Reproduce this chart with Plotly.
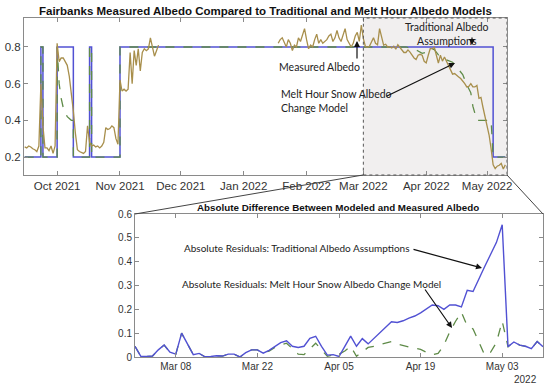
import plotly.graph_objects as go
import pandas as pd

W, H = 550, 389

# ---------------- data ----------------
# Measured albedo, daily, fall segment (starting 2021-09-15)
meas_fall_start = "2021-09-15"
meas_fall = [0.255, 0.25, 0.26, 0.255, 0.245, 0.24, 0.23, 0.26, 0.6, 0.37,
             0.25, 0.25, 0.235, 0.26, 0.22, 0.26,
             0.82, 0.72, 0.74, 0.74, 0.72, 0.70, 0.64, 0.55, 0.45, 0.33,
             0.24, 0.23, 0.225, 0.22, 0.23, 0.37, 0.28, 0.26, 0.265, 0.255,
             0.26, 0.25, 0.26, 0.28, 0.36, 0.35, 0.355, 0.37, 0.36, 0.30, 0.27,
             0.62, 0.56, 0.57, 0.56, 0.57, 0.77, 0.60, 0.78, 0.70, 0.79,
             0.67, 0.77, 0.79, 0.78, 0.79, 0.85, 0.80, 0.75, 0.78, 0.81]
# Measured albedo, daily, winter/spring segment (starting 2022-01-18)
meas_spring_start = "2022-01-18"
meas_spring = [0.82, 0.84, 0.85, 0.82, 0.80, 0.84, 0.82, 0.78, 0.81, 0.80,
               0.85, 0.83, 0.86, 0.90,
               0.84, 0.79, 0.81, 0.80, 0.84, 0.87, 0.82, 0.84, 0.82, 0.83,
               0.84, 0.86, 0.87, 0.83, 0.85, 0.89, 0.85, 0.83, 0.86, 0.90,
               0.84, 0.82, 0.80, 0.82, 0.86, 0.88, 0.83, 0.92,
               0.845, 0.803, 0.798, 0.804, 0.83, 0.85, 0.82, 0.812, 0.9, 0.855,
               0.81, 0.815, 0.799, 0.802, 0.795, 0.804, 0.788, 0.812, 0.8, 0.782,
               0.77, 0.77, 0.784, 0.772, 0.755, 0.74, 0.732, 0.755, 0.76, 0.755, 0.722,
               0.713, 0.755, 0.792, 0.79, 0.798, 0.755, 0.712, 0.755, 0.723, 0.745,
               0.722, 0.70, 0.675, 0.652, 0.655, 0.648, 0.637, 0.628, 0.615, 0.60,
               0.582, 0.585, 0.60, 0.582, 0.582, 0.59, 0.52, 0.525, 0.47, 0.42,
               0.37, 0.32, 0.245, 0.157, 0.137, 0.15, 0.155, 0.165, 0.135, 0.157]

# Traditional albedo assumption (step values)
trad_dates = ["2021-09-15", "2021-09-23", "2021-09-24", "2021-10-01", "2021-10-09",
              "2021-10-17", "2021-10-18", "2021-11-01", "2022-05-04", "2022-05-10"]
trad_vals = [0.2, 0.8, 0.2, 0.8, 0.2, 0.8, 0.2, 0.8, 0.2, 0.2]

# Melt hour snow albedo change model (breakpoints)
melt_dates = ["2021-09-15", "2021-09-23", "2021-09-23", "2021-09-24", "2021-09-24",
              "2021-10-01", "2021-10-01", "2021-10-02", "2021-10-03", "2021-10-04",
              "2021-10-05", "2021-10-06", "2021-10-07", "2021-10-08", "2021-10-09",
              "2021-10-09", "2021-10-17", "2021-10-17", "2021-10-18", "2021-10-18",
              "2021-11-01", "2021-11-01", "2022-03-22", "2022-03-24", "2022-03-26",
              "2022-03-28", "2022-03-30", "2022-04-01", "2022-04-03", "2022-04-05",
              "2022-04-07", "2022-04-09", "2022-04-11", "2022-04-14", "2022-04-17",
              "2022-04-19", "2022-04-21", "2022-04-23", "2022-04-24", "2022-04-25",
              "2022-04-26", "2022-05-03", "2022-05-04", "2022-05-10"]
melt_vals = [0.2, 0.2, 0.8, 0.8, 0.2,
             0.2, 0.8, 0.6, 0.52, 0.47,
             0.44, 0.42, 0.41, 0.40, 0.40,
             0.2, 0.2, 0.8, 0.8, 0.2,
             0.2, 0.8, 0.8, 0.797, 0.79,
             0.778, 0.765, 0.771, 0.79, 0.786,
             0.757, 0.745, 0.73, 0.717, 0.68,
             0.65, 0.595, 0.55, 0.477, 0.44,
             0.40, 0.40, 0.2, 0.2]

# Absolute residuals, daily from 2022-03-01
resid_start = "2022-03-01"
resid_trad = [0.045, 0.003, 0.002, 0.004, 0.03, 0.05, 0.02, 0.012, 0.1, 0.055,
              0.01, 0.015, 0.001, 0.002, 0.005, 0.004, 0.012, 0.012, 0.0, 0.018,
              0.03, 0.03, 0.016, 0.028, 0.045, 0.06, 0.068, 0.045, 0.04, 0.045, 0.078,
              0.087, 0.045, 0.008, 0.01, 0.002, 0.045, 0.088, 0.045, 0.077, 0.055,
              0.078, 0.1, 0.125, 0.148, 0.145, 0.152, 0.163, 0.172, 0.185, 0.2,
              0.218, 0.215, 0.2, 0.218, 0.218, 0.21, 0.28, 0.275, 0.33, 0.38,
              0.43, 0.48, 0.555, 0.043, 0.063, 0.05, 0.045, 0.035, 0.065, 0.043]
resid_melt = [0.045, 0.003, 0.002, 0.004, 0.03, 0.05, 0.02, 0.012, 0.1, 0.055,
              0.01, 0.015, 0.001, 0.002, 0.005, 0.004, 0.012, 0.012, 0.0, 0.018,
              0.03, 0.03, 0.016, 0.025, 0.04, 0.05, 0.058, 0.035, 0.012, 0.01, 0.035,
              0.058, 0.03, 0.003, 0.008, 0.012, 0.025, 0.045, 0.003, 0.02, 0.04,
              0.045, 0.052, 0.06, 0.065, 0.055, 0.048, 0.042, 0.038, 0.032, 0.02,
              0.01, 0.015, 0.05, 0.105, 0.15, 0.188, 0.13, 0.118, 0.06, 0.008,
              0.02, 0.06, 0.15, 0.043, 0.063, 0.05, 0.045, 0.035, 0.065, 0.043]

top_ticks = ["2021-10-01", "2021-11-01", "2021-12-01", "2022-01-01",
             "2022-02-01", "2022-03-01", "2022-04-01", "2022-05-01"]
bottom_ticks = ["2022-03-08", "2022-03-22", "2022-04-05", "2022-04-19", "2022-05-03"]

# ---------------- colours / fonts ----------------
BLUE = "#5151d3"
GREEN = "#5f8b48"
MEAS = "#a88f4c"
AX = "#8a8a8a"
TICKFONT = dict(family="Liberation Sans, Arial, sans-serif", size=11.5, color="#333")
ANNFONT = "Lato, Carlito, sans-serif"


def px(x, y):
    return x / W, 1 - y / H


meas_fall_dates = list(pd.date_range(meas_fall_start, periods=len(meas_fall), freq="D"))
meas_spring_dates = list(pd.date_range(meas_spring_start, periods=len(meas_spring), freq="D"))
meas_x = meas_fall_dates + [None] + meas_spring_dates
meas_y = meas_fall + [None] + meas_spring
resid_dates = pd.date_range(resid_start, periods=len(resid_trad), freq="D")

fig = go.Figure()
fig.add_trace(go.Scatter(x=pd.to_datetime(trad_dates), y=trad_vals, mode="lines",
                         line=dict(color=BLUE, width=1.5, shape="hv"),
                         xaxis="x", yaxis="y", showlegend=False))
fig.add_trace(go.Scatter(x=pd.to_datetime(melt_dates), y=melt_vals, mode="lines",
                         line=dict(color=GREEN, width=1.3, dash="dash"),
                         xaxis="x", yaxis="y", showlegend=False))
fig.add_trace(go.Scatter(x=meas_x, y=meas_y, mode="lines",
                         line=dict(color=MEAS, width=1.3),
                         xaxis="x", yaxis="y", showlegend=False, connectgaps=False))
fig.add_trace(go.Scatter(x=resid_dates, y=resid_melt, mode="lines",
                         line=dict(color=GREEN, width=1.3, dash="dash"),
                         xaxis="x2", yaxis="y2", showlegend=False))
fig.add_trace(go.Scatter(x=resid_dates, y=resid_trad, mode="lines",
                         line=dict(color=BLUE, width=1.4),
                         xaxis="x2", yaxis="y2", showlegend=False))

common = dict(showline=True, linecolor=AX, linewidth=1, mirror="allticks",
              ticks="inside", ticklen=4, tickcolor=AX, showgrid=False,
              zeroline=False, automargin=False)

fig.update_layout(
    width=W, height=H,
    margin=dict(l=0, r=0, t=0, b=0),
    paper_bgcolor="white", plot_bgcolor="rgba(0,0,0,0)",
    xaxis=dict(domain=[24 / W, 507 / W], type="date", anchor="y",
               range=["2021-09-14 16:00", "2022-05-10 20:00"],
               tickvals=top_ticks, tickformat="%b %Y", tickfont=TICKFONT, **common),
    yaxis=dict(domain=[1 - 175 / H, 1 - 18 / H], anchor="x",
               range=[0.102, 0.958], tickvals=[0.2, 0.4, 0.6, 0.8],
               ticktext=["0.2", "0.4", "0.6", "0.8"], tickfont=TICKFONT, **common),
    xaxis2=dict(domain=[135 / W, 543 / W], type="date", anchor="y2",
                range=["2022-03-01", "2022-05-10"],
                tickvals=bottom_ticks, tickformat="%b %d",
                tickfont=dict(TICKFONT, size=10), **common),
    yaxis2=dict(domain=[1 - 357 / H, 1 - 214 / H], anchor="x2",
                range=[0, 0.6], tickvals=[0, 0.1, 0.2, 0.3, 0.4, 0.5, 0.6],
                ticktext=["0", "0.1", "0.2", "0.3", "0.4", "0.5", "0.6"],
                tickfont=dict(TICKFONT, size=10), **common),
)

# shaded zoom region
fig.add_shape(type="rect", xref="x", yref="paper", x0="2022-03-01", x1="2022-05-10 20:00",
              y0=1 - 175 / H, y1=1 - 18 / H, fillcolor="#f1efef",
              line=dict(width=0), layer="below")
fig.add_shape(type="rect", xref="x", yref="paper", x0="2022-03-01", x1="2022-05-10 20:00",
              y0=1 - 175 / H, y1=1 - 18 / H, fillcolor="rgba(0,0,0,0)",
              line=dict(color="#555", width=1, dash="dot"), layer="above")

# connector lines
for (x0, y0, x1, y1) in [(363, 175, 135, 214), (507, 175, 543, 214)]:
    a = px(x0, y0)
    b = px(x1, y1)
    fig.add_shape(type="line", xref="paper", yref="paper", x0=a[0], y0=a[1],
                  x1=b[0], y1=b[1], line=dict(color="#444", width=1))

ann = []
# titles
tx, ty = px(265, 11)
ann.append(dict(x=tx, y=ty, text="<b>Fairbanks Measured Albedo Compared to Traditional and Melt Hour Albedo Models</b>",
                font=dict(family="Liberation Sans, Arial", size=11.5, color="#111")))
tx, ty = px(338, 207)
ann.append(dict(x=tx, y=ty, text="<b>Absolute Difference Between Modeled and Measured Albedo</b>",
                font=dict(family="Liberation Sans, Arial", size=9.8, color="#111")))
# top annotations text
tx, ty = px(319, 67)
ann.append(dict(x=tx, y=ty, text="Measured Albedo", font=dict(family=ANNFONT, size=10.5, color="#222")))
tx, ty = px(447, 34)
ann.append(dict(x=tx, y=ty, text="Traditional Albedo<br>Assumptions",
                font=dict(family=ANNFONT, size=10.5, color="#222")))
tx, ty = px(279, 101)
ann.append(dict(x=tx, y=ty, xanchor="left", align="left", text="Melt Hour Snow Albedo<br>Change Model",
                font=dict(family=ANNFONT, size=10.5, color="#222")))
tx, ty = px(297, 248)
ann.append(dict(x=tx, y=ty, text="Absolute Residuals: Traditional Albedo Assumptions",
                font=dict(family=ANNFONT, size=10, color="#222")))
tx, ty = px(311, 284)
ann.append(dict(x=tx, y=ty, text="Absolute Residuals: Melt Hour Snow Albedo Change Model",
                font=dict(family=ANNFONT, size=10, color="#222")))
tx, ty = px(525, 379)
ann.append(dict(x=tx, y=ty, text="2022", font=dict(TICKFONT, size=10)))

for a in ann:
    a.setdefault("xanchor", "center")
    a.setdefault("yanchor", "middle")
    a.update(xref="paper", yref="paper", showarrow=False)
    fig.add_annotation(**a)

# arrows (tail px -> head px)
arrows = [((357, 60), (357, 41)), ((472, 36), (472, 45)), ((385, 97), (455, 63)),
          ((412, 249), (482, 268)), ((424, 288), (452, 328))]
for (t, h) in arrows:
    hx, hy = px(*h)
    fig.add_annotation(x=hx, y=hy, xref="paper", yref="paper", text="",
                       showarrow=True, ax=t[0] - h[0], ay=t[1] - h[1],
                       arrowhead=2, arrowsize=1, arrowwidth=1.2, arrowcolor="#111",
                       standoff=0)

fig.write_html("out.html", config={"displayModeBar": False},
               post_script="document.body.style.margin='0';document.body.style.overflow='hidden';")
